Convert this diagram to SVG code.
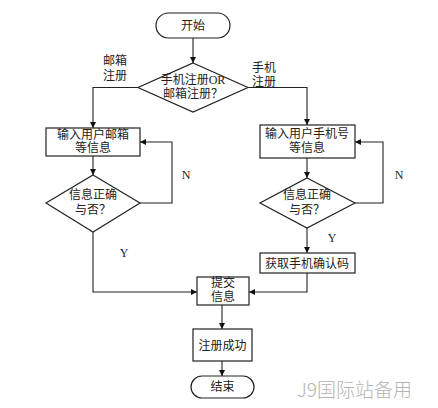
<svg xmlns="http://www.w3.org/2000/svg" width="438" height="408" viewBox="0 0 438 408">
<style>
.s{fill:#fff;stroke:#222;stroke-width:1.2}
.c{fill:none;stroke:#222;stroke-width:1.1}
text{font-family:"Liberation Serif","Noto Sans CJK SC",serif;font-size:12px;fill:#222;text-anchor:middle}
.w{font-family:"Noto Sans CJK SC",sans-serif;font-size:19px;fill:#b4b4b4;text-anchor:start;font-weight:300}
</style>
<defs>
<marker id="a" viewBox="0 0 10 10" refX="10" refY="5" markerWidth="6" markerHeight="6" markerUnits="userSpaceOnUse" orient="auto">
<path d="M0,0L10,5L0,10z" fill="#111"/>
</marker>
</defs>
<rect width="438" height="408" fill="#fff"/>
<g id="connectors">
<path class="c" d="M193,38V63" marker-end="url(#a)"/>
<path class="c" d="M138,87.5H93V128" marker-end="url(#a)"/>
<path class="c" d="M248,87.5H307V125" marker-end="url(#a)"/>
<path class="c" d="M93,156V175" marker-end="url(#a)"/>
<path class="c" d="M307,158V178" marker-end="url(#a)"/>
<path class="c" d="M140,203H172V142H140" marker-end="url(#a)"/>
<path class="c" d="M355,203H383V142H355" marker-end="url(#a)"/>
<path class="c" d="M307,228V253" marker-end="url(#a)"/>
<path class="c" d="M93,232V292H197" marker-end="url(#a)"/>
<path class="c" d="M307,273V292H249" marker-end="url(#a)"/>
<path class="c" d="M222,305V329" marker-end="url(#a)"/>
<path class="c" d="M222,361V376" marker-end="url(#a)"/>
<text x="115" y="65">邮箱</text>
<text x="115" y="80">注册</text>
<text x="264" y="72">手机</text>
<text x="264" y="86">注册</text>
<text x="186" y="179">N</text>
<text x="399" y="179">N</text>
<text x="124" y="257">Y</text>
<text x="332" y="242">Y</text>
</g>
<g id="start">
<rect class="s" x="156" y="13" width="74" height="25" rx="12.5"/>
<text x="193" y="29.5">开始</text>
</g>
<g id="choice">
<path class="s" d="M193,63L248,87.5L193,112L138,87.5z"/>
<text x="193" y="84">手机注册OR</text>
<text x="193" y="98">邮箱注册？</text>
</g>
<g id="email-input">
<rect class="s" x="46" y="128" width="94" height="28"/>
<text x="93" y="138.5">输入用户邮箱</text>
<text x="93" y="152">等信息</text>
</g>
<g id="phone-input">
<rect class="s" x="260" y="125" width="95" height="33"/>
<text x="307" y="137.5">输入用户手机号</text>
<text x="307" y="152">等信息</text>
</g>
<g id="email-check">
<path class="s" d="M93,175L140,203L93,232L46,203z"/>
<text x="93" y="199">信息正确</text>
<text x="93" y="214">与否？</text>
</g>
<g id="phone-check">
<path class="s" d="M307,178L355,203L307,228L260,203z"/>
<text x="307" y="199">信息正确</text>
<text x="307" y="214">与否？</text>
</g>
<g id="get-code">
<rect class="s" x="260" y="253" width="95" height="20"/>
<text x="307" y="267.5">获取手机确认码</text>
</g>
<g id="submit">
<rect class="s" x="197" y="277" width="52" height="28"/>
<text x="223" y="287">提交</text>
<text x="223" y="301">信息</text>
</g>
<g id="success">
<rect class="s" x="193" y="329" width="59" height="32"/>
<text x="222.5" y="349.5">注册成功</text>
</g>
<g id="end">
<rect class="s" x="191" y="376" width="63" height="22" rx="11"/>
<text x="222.5" y="391">结束</text>
</g>
<text class="w" x="297" y="397">J9国际站备用</text>
</svg>
